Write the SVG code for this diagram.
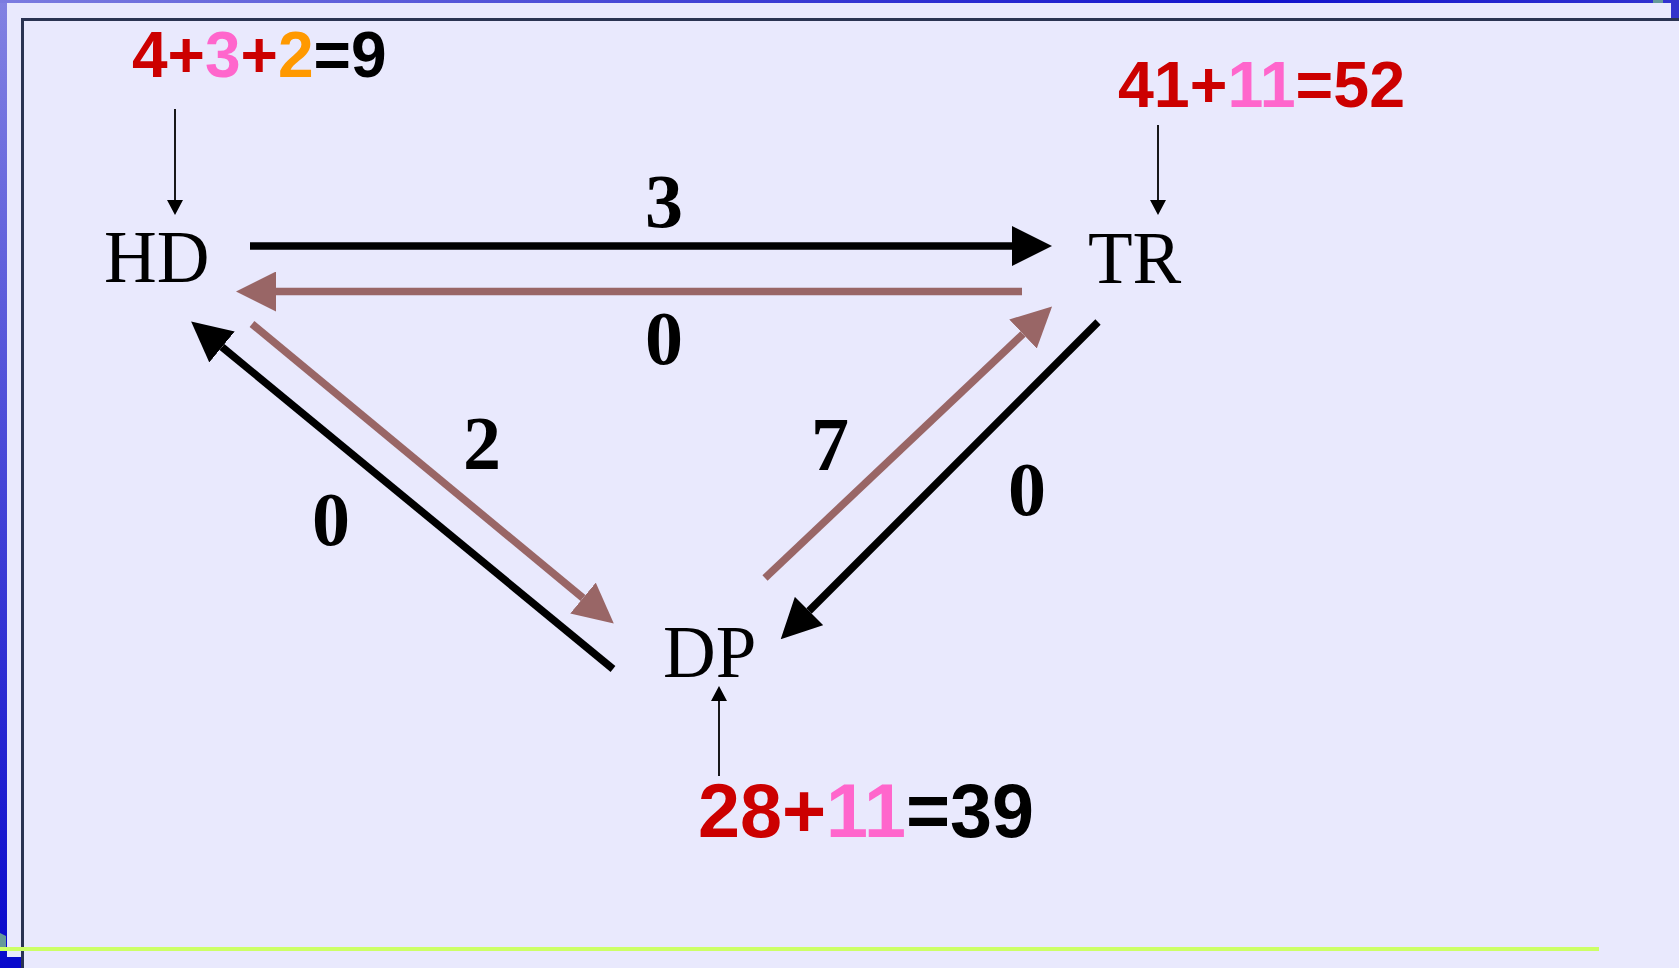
<svg xmlns="http://www.w3.org/2000/svg" width="1679" height="968" viewBox="0 0 1679 968">
<defs>
<linearGradient id="gLeft" x1="0" y1="0" x2="0" y2="1"><stop offset="0" stop-color="#8282e2"/><stop offset="1" stop-color="#0808cc"/></linearGradient>
<linearGradient id="gTop" x1="0" y1="0" x2="1" y2="0"><stop offset="0" stop-color="#7c7ce0"/><stop offset="0.75" stop-color="#1212cc"/><stop offset="1" stop-color="#3232d0"/></linearGradient>
<marker id="hBlack" viewBox="0 0 40 40" refX="0" refY="20" markerWidth="40" markerHeight="40" markerUnits="userSpaceOnUse" orient="auto"><path d="M0,0 L40,20 L0,40 Z" fill="#000"/></marker>
<marker id="hBrown" viewBox="0 0 40 40" refX="0" refY="20" markerWidth="40" markerHeight="40" markerUnits="userSpaceOnUse" orient="auto"><path d="M0,0 L40,20 L0,40 Z" fill="#996666"/></marker>
<marker id="hSmall" viewBox="0 0 15 16" refX="0" refY="8" markerWidth="15" markerHeight="16" markerUnits="userSpaceOnUse" orient="auto"><path d="M0,0 L15,8 L0,16 Z" fill="#000"/></marker>
</defs>
<style>
.sum{font-family:"Liberation Sans",Arial,sans-serif;font-weight:bold;}
.red{fill:#cc0000}.pink{fill:#ff66cc}.orange{fill:#ff9900}.blk{fill:#000}
.node{font-family:"Liberation Serif","Times New Roman",serif;font-size:73px;fill:#000}
.elab{font-family:"Liberation Serif","Times New Roman",serif;font-weight:bold;font-size:76px;fill:#000;text-anchor:middle}
.black{stroke:#000;stroke-width:7.5;fill:none;marker-end:url(#hBlack)}
.brown{stroke:#996666;stroke-width:7.5;fill:none;marker-end:url(#hBrown)}
.thin{stroke:#000;stroke-width:1.8;fill:none;marker-end:url(#hSmall)}
</style>
<g id="background">
<rect x="0" y="0" width="1679" height="968" fill="#0808cc"/>
<rect x="0" y="0" width="7" height="968" fill="url(#gLeft)"/>
<rect x="0" y="0" width="1679" height="3" fill="url(#gTop)"/>
<rect x="1671" y="0" width="8" height="18" fill="#3333cc"/>
<rect x="1653" y="0" width="10" height="4" fill="#669999"/>
<rect x="7" y="3" width="1664" height="954" fill="#e9e9fd"/>
<rect x="21" y="19" width="1658" height="949" fill="#e9e9fd"/>
<polygon points="0,933 6,936 6,947 0,947" fill="#669999"/>
<path d="M22.5,968 V19.5 H1679" stroke="#2a3352" stroke-width="3" fill="none"/>
<rect x="0" y="947" width="1599" height="4" fill="#ccff66"/>
</g>
<g id="connectors">
<line class="black" x1="250" y1="246" x2="1012" y2="246"/>
<line class="brown" x1="1022" y1="291.5" x2="276" y2="291.5"/>
<line class="black" x1="613" y1="669" x2="222" y2="347"/>
<line class="brown" x1="252" y1="324" x2="583" y2="598"/>
<line class="brown" x1="765" y1="578" x2="1023" y2="334"/>
<line class="black" x1="1098" y1="322" x2="809" y2="611"/>
<line class="thin" x1="175" y1="109" x2="175" y2="200"/>
<line class="thin" x1="1158" y1="125" x2="1158" y2="200"/>
<line class="thin" x1="719" y1="776" x2="719" y2="701"/>
<text class="elab" x="664" y="227">3</text>
<text class="elab" x="664" y="364">0</text>
<text class="elab" x="482" y="469">2</text>
<text class="elab" x="331" y="545">0</text>
<text class="elab" x="830" y="470">7</text>
<text class="elab" x="1027" y="515">0</text>
</g>
<g id="node-HD">
<text class="node" x="104" y="282">HD</text>
<text class="sum" x="132" y="77" font-size="64"><tspan class="red">4+</tspan><tspan class="pink">3</tspan><tspan class="red">+</tspan><tspan class="orange">2</tspan><tspan class="blk">=9</tspan></text>
</g>
<g id="node-TR">
<text class="node" x="1088" y="283">TR</text>
<text class="sum" x="1118" y="107" font-size="64.5"><tspan class="red">41+</tspan><tspan class="pink">11</tspan><tspan class="red">=52</tspan></text>
</g>
<g id="node-DP">
<text class="node" x="663" y="677">DP</text>
<text class="sum" x="698" y="837" font-size="75.5"><tspan class="red">28+</tspan><tspan class="pink">11</tspan><tspan class="blk">=39</tspan></text>
</g>
</svg>
